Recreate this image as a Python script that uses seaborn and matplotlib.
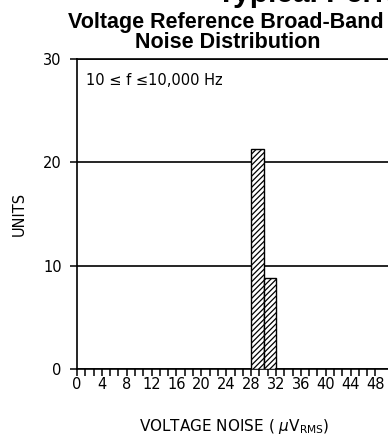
import numpy as np
import matplotlib
matplotlib.use("Agg")
import matplotlib.pyplot as plt
import seaborn as sns

# Data
bin_left = [28, 30]          # left edge of each histogram bin (uV RMS)
bin_width = 2
units = [21.3, 8.8]          # bar heights (units)

x_ticks = list(range(0, 49, 4))
y_ticks = [0, 10, 20, 30]

sns.set_style("ticks")
plt.rcParams['font.family'] = ['DejaVu Sans']
plt.rcParams['hatch.linewidth'] = 0.9
plt.rcParams['hatch.color'] = 'black'
plt.rcParams['text.color'] = 'black'
plt.rcParams['axes.labelcolor'] = 'black'
plt.rcParams['xtick.color'] = 'black'
plt.rcParams['ytick.color'] = 'black'

fig = plt.figure(figsize=(3.88, 4.42), dpi=100)
ax = fig.add_axes([77 / 388, 73 / 442, 314 / 388, 310 / 442])

centers = [b + bin_width / 2 for b in bin_left]
edges = bin_left + [bin_left[-1] + bin_width]
sns.histplot(x=centers, weights=units, bins=edges, ax=ax,
             color='white', edgecolor='black', linewidth=1.0,
             hatch='//////', alpha=1, zorder=3)

ax.set_xlim(0, 50.5)
ax.set_ylim(0, 30)
ax.set_xticks(x_ticks)
ax.set_xticks(np.arange(0, 49, 4 / 3), minor=True)
ax.set_yticks(y_ticks)
ax.tick_params(axis='both', which='both', direction='out', length=5,
               width=1.1, color='black', labelsize=10.5)
ax.tick_params(axis='y', pad=6)
ax.tick_params(axis='x', pad=1)

ax.grid(axis='y', color='black', linewidth=1.2)
ax.grid(axis='x', visible=False)
ax.set_axisbelow(True)

for s in ['left', 'bottom', 'top']:
    ax.spines[s].set_color('black')
    ax.spines[s].set_linewidth(1.2)
ax.spines['right'].set_visible(False)

ax.set_xlabel(r'VOLTAGE NOISE ( $\mu$V$_{\rm RMS}$)', fontsize=11, labelpad=18)
ax.set_ylabel('UNITS', fontsize=10.5, labelpad=12)

ax.text(0.03, 0.955, '10 ≤ f ≤10,000 Hz', transform=ax.transAxes,
        fontsize=10.5, ha='left', va='top')

# titles
fig.text(226 / 388, 1 - 28 / 442, 'Voltage Reference Broad-Band',
         family='Liberation Sans', weight='bold', fontsize=15.5,
         ha='center', va='baseline')
fig.text(228 / 388, 1 - 48 / 442, 'Noise Distribution',
         family='Liberation Sans', weight='bold', fontsize=15.5,
         ha='center', va='baseline')
fig.text(217 / 388, 1 - 2 / 442, 'Typical Performance Characteristics',
         family='Liberation Sans', weight='bold', fontsize=21.5,
         ha='left', va='baseline')

fig.savefig('out.png', dpi=100)
